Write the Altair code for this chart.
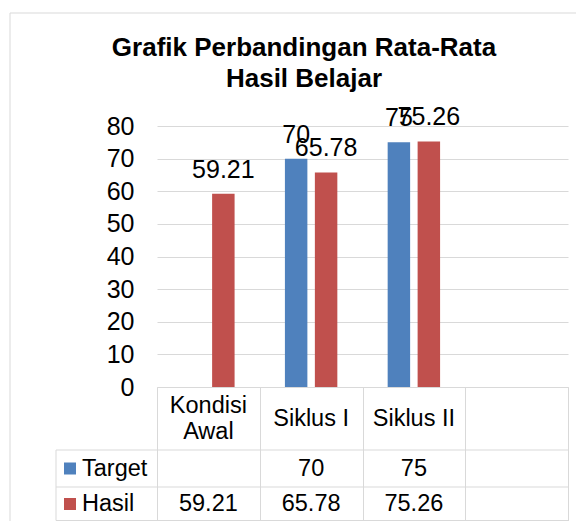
import altair as alt
import pandas as pd

# ---- data ----
categories = ["Kondisi Awal", "Siklus I", "Siklus II", ""]
header_labels = ["Kondisi\nAwal", "Siklus I", "Siklus II", ""]
series = ["Target", "Hasil"]
target_values = [None, 70, 75, None]
hasil_values = [59.21, 65.78, 75.26, None]
target_labels = ["", "70", "75", ""]
hasil_labels = ["59.21", "65.78", "75.26", ""]
colors = ["#4F81BD", "#C0504D"]
y_ticks = [0, 10, 20, 30, 40, 50, 60, 70, 80]
title_lines = ["Grafik Perbandingan Rata-Rata", "Hasil Belajar"]

# ---- layout / style ----
W, H = 411, 261
FONT = "Liberation Sans"
GRID = "#D9D9D9"
TABLE_BOTTOM = 394.5
ROW_TOP = [324, 361]           # tops of Target / Hasil rows
ROW_CENTER = [342.5, 378]
HEADER_CENTER = 292.5
HEADER_LH = 26
ROWLABEL_LEFT = -101

rows = []
for s, vals, labs in [("Target", target_values, target_labels),
                      ("Hasil", hasil_values, hasil_labels)]:
    for c, v, l in zip(categories, vals, labs):
        rows.append({"cat": c, "series": s, "value": v, "label": l})
df = pd.DataFrame(rows)
bars_df = df.dropna(subset=["value"]).copy()

x_enc = alt.X(
    "cat:N",
    sort=categories,
    scale=alt.Scale(domain=categories, paddingInner=0, paddingOuter=0),
    axis=alt.Axis(labels=False, title=None, tickBand="extent",
                  tickSize=TABLE_BOTTOM - H, tickColor=GRID, tickWidth=1,
                  domainColor=GRID, domainWidth=1, grid=False),
)
xoff_enc = alt.XOffset("series:N", sort=series,
                       scale=alt.Scale(domain=series, paddingInner=0.25, paddingOuter=0.84))
y_enc = alt.Y(
    "value:Q",
    scale=alt.Scale(domain=[0, 80], nice=False),
    axis=alt.Axis(values=y_ticks, title=None, domain=False, ticks=False,
                  labelPadding=23, labelFontSize=25, labelFont=FONT,
                  labelColor="#000000", grid=True, gridColor=GRID, gridWidth=1),
)
color_enc = alt.Color("series:N", scale=alt.Scale(domain=series, range=colors), legend=None)

bars = alt.Chart(bars_df).mark_bar().encode(
    x=x_enc, xOffset=xoff_enc, y=y_enc, color=color_enc
)
bar_labels = alt.Chart(bars_df).mark_text(
    baseline="alphabetic", dy=-16, fontSize=25, font=FONT, color="#000000"
).encode(x=x_enc, xOffset=xoff_enc, y=y_enc, text="label:N")

one = pd.DataFrame({"k": [0]})

layers = [bars, bar_labels]

# header row of data table (single-line and two-line labels centred in the row)
header_df = pd.DataFrame({"cat": categories, "head": header_labels})
header_text = dict(lineBreak="\n", lineHeight=HEADER_LH, fontSize=23.5, font=FONT,
                   baseline="middle", align="center", color="#000000")
layers.append(
    alt.Chart(header_df).transform_filter("indexof(datum.head, '\\n') < 0")
    .mark_text(**header_text)
    .encode(x=x_enc, y=alt.value(HEADER_CENTER), text="head:N")
)
layers.append(
    alt.Chart(header_df).transform_filter("indexof(datum.head, '\\n') >= 0")
    .mark_text(**header_text)
    .encode(x=x_enc, y=alt.value(HEADER_CENTER - HEADER_LH / 2), text="head:N")
)

# value rows + row labels + legend keys
for i, s in enumerate(series):
    sub = df[df["series"] == s]
    layers.append(
        alt.Chart(sub).mark_text(
            fontSize=23.5, font=FONT, baseline="middle", align="center", color="#000000"
        ).encode(x=x_enc, y=alt.value(ROW_CENTER[i]), text="label:N")
    )
    key_df = pd.DataFrame({"series": [s]})
    layers.append(
        alt.Chart(key_df).mark_square(size=144, opacity=1).encode(
            x=alt.value(-87), y=alt.value(ROW_CENTER[i]), color=color_enc
        )
    )
    layers.append(
        alt.Chart(key_df).mark_text(
            fontSize=23.5, font=FONT, baseline="middle", align="left", color="#000000"
        ).encode(x=alt.value(-75), y=alt.value(ROW_CENTER[i]), text="series:N")
    )

# table grid lines
for yv in ROW_TOP + [TABLE_BOTTOM]:
    layers.append(
        alt.Chart(one).mark_rule(color=GRID, strokeWidth=1).encode(
            x=alt.value(ROWLABEL_LEFT), x2=alt.value(W), y=alt.value(yv)
        )
    )
layers.append(
    alt.Chart(one).mark_rule(color=GRID, strokeWidth=1).encode(
        x=alt.value(ROWLABEL_LEFT), y=alt.value(ROW_TOP[0]), y2=alt.value(TABLE_BOTTOM)
    )
)

# chart-area border (top and left visible in reference)
layers.append(
    alt.Chart(one).mark_rule(color=GRID, strokeWidth=1).encode(
        x=alt.value(-147), x2=alt.value(W + 8), y=alt.value(-113)
    )
)
layers.append(
    alt.Chart(one).mark_rule(color=GRID, strokeWidth=1).encode(
        x=alt.value(-147), y=alt.value(-113), y2=alt.value(H + 134)
    )
)

# title
title_df = pd.DataFrame({"t": ["\n".join(title_lines)]})
layers.append(
    alt.Chart(title_df).mark_text(
        lineBreak="\n", lineHeight=31, fontSize=26, font=FONT, fontWeight="bold",
        align="center", baseline="alphabetic", color="#000000"
    ).encode(x=alt.value(147), y=alt.value(-70), text="t:N")
)

chart = alt.layer(*layers).properties(
    width=W, height=H,
    autosize="none",
    padding={"left": 149, "top": 118, "right": 8, "bottom": 134},
    background="white",
).configure_view(stroke=None)

chart.save("out.html", embed_options={"renderer": "svg", "actions": False})
